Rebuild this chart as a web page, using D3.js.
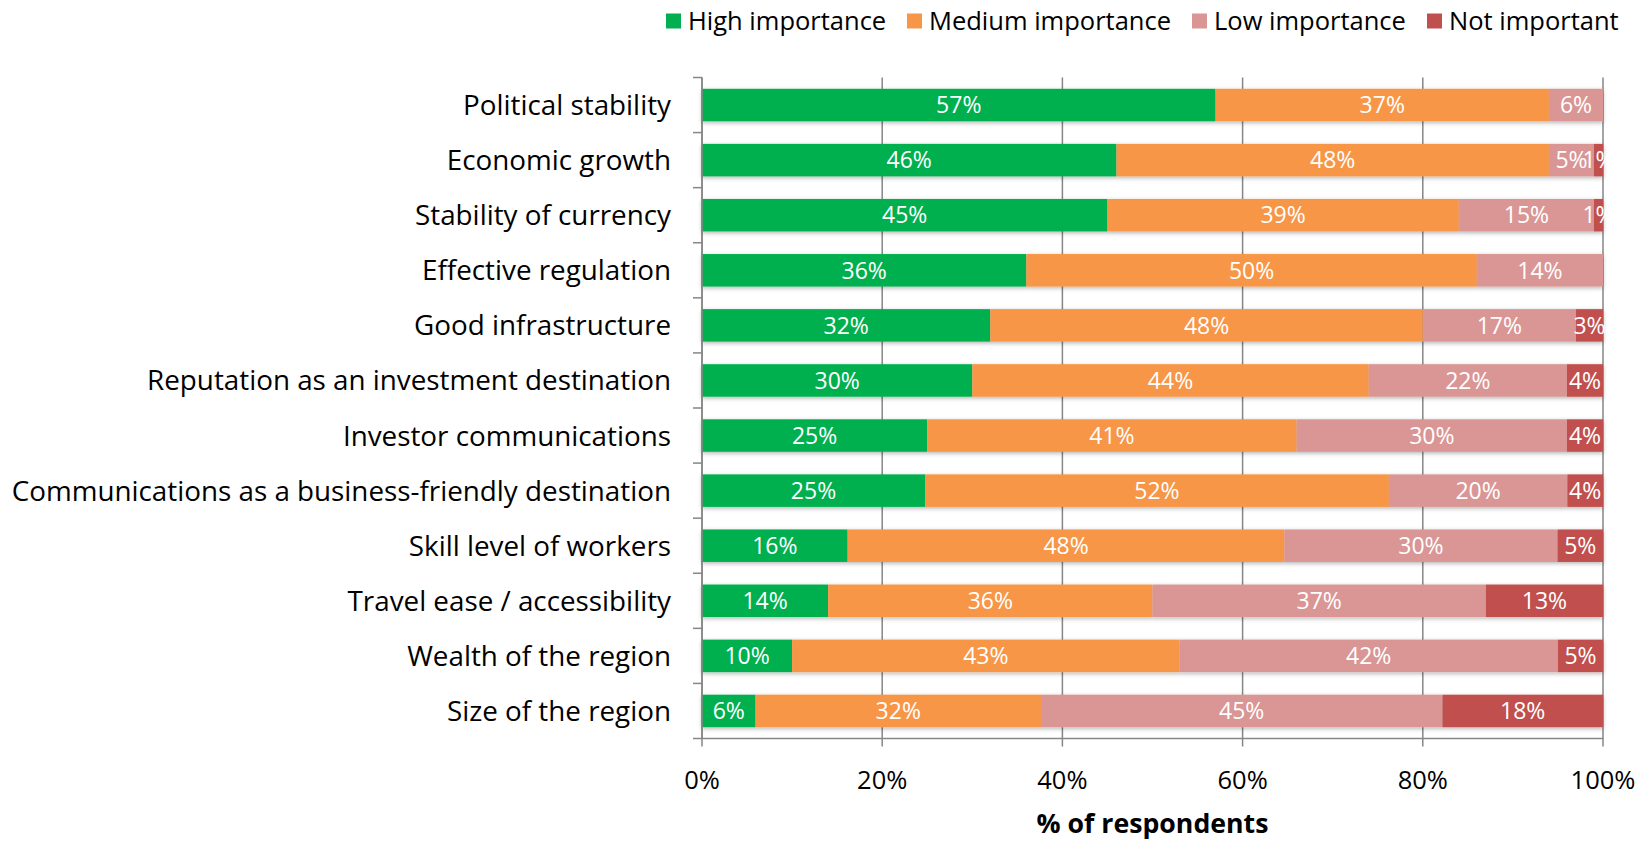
<!DOCTYPE html>
<html>
<head>
<meta charset="utf-8">
<script src="https://cdn.jsdelivr.net/npm/d3@7"></script>
<style>
  html, body { margin: 0; padding: 0; background: #fff; }
  svg { display: block; font-family: "Open Sans", Lato, sans-serif; }
</style>
</head>
<body>
<svg id="chart" width="1643" height="841"></svg>
<script>
// Location factors and how important respondents rated them (% of respondents)
const categories = [
  "Political stability",
  "Economic growth",
  "Stability of currency",
  "Effective regulation",
  "Good infrastructure",
  "Reputation as an investment destination",
  "Investor communications",
  "Communications as a business-friendly destination",
  "Skill level of workers",
  "Travel ease / accessibility",
  "Wealth of the region",
  "Size of the region"
];
const seriesNames = ["High importance", "Medium importance", "Low importance", "Not important"];
const highImportance   = [57, 46, 45, 36, 32, 30, 25, 25, 16, 14, 10, 6];
const mediumImportance = [37, 48, 39, 50, 48, 44, 41, 52, 48, 36, 43, 32];
const lowImportance    = [6, 5, 15, 14, 17, 22, 30, 20, 30, 37, 42, 45];
const notImportant     = [0, 1, 1, 0, 3, 4, 4, 4, 5, 13, 5, 18];
const xTicks = [0, 0.2, 0.4, 0.6, 0.8, 1.0];
const colors = ["#00B050", "#F79646", "#D99694", "#C0504D"];

const seriesValues = [highImportance, mediumImportance, lowImportance, notImportant];
const rows = categories.map((c, i) => {
  const r = { category: c };
  seriesNames.forEach((s, j) => { r[s] = seriesValues[j][i]; });
  return r;
});

const svg = d3.select("#chart");
const margin = { left: 702, right: 40, top: 77.5, bottom: 102.5 };
const W = 1643, H = 841;

const x = d3.scaleLinear().domain([0, 1]).range([margin.left, W - margin.right]);
const y = d3.scaleBand().domain(categories)
  .range([margin.top, H - margin.bottom])
  .paddingInner(0.41).paddingOuter(0.205);

// 100% stacked layout
const stacked = d3.stack().keys(seriesNames).offset(d3.stackOffsetExpand)(rows);

const defs = svg.append("defs");
const f = defs.append("filter").attr("id", "shadow")
  .attr("x", "-5%").attr("y", "-40%").attr("width", "110%").attr("height", "180%");
f.append("feDropShadow").attr("dx", 0).attr("dy", 1.5).attr("stdDeviation", 2)
  .attr("flood-color", "#000").attr("flood-opacity", 0.3);

const gridColor = "#868686";

// vertical gridlines with outward ticks
svg.append("g").selectAll("line").data(xTicks).join("line")
  .attr("x1", d => x(d)).attr("x2", d => x(d))
  .attr("y1", margin.top).attr("y2", H - margin.bottom + 8)
  .attr("stroke", gridColor).attr("stroke-width", 1.5);

// bottom axis line
svg.append("line")
  .attr("x1", x(0)).attr("x2", x(1))
  .attr("y1", H - margin.bottom).attr("y2", H - margin.bottom)
  .attr("stroke", gridColor).attr("stroke-width", 1.5);

// category axis ticks at band edges
const edges = d3.range(categories.length + 1).map(i => margin.top + i * y.step());
svg.append("g").selectAll("line").data(edges).join("line")
  .attr("x1", x(0) - 9).attr("x2", x(0))
  .attr("y1", d => d).attr("y2", d => d)
  .attr("stroke", gridColor).attr("stroke-width", 1.5);

// bars
const barG = svg.append("g").attr("filter", "url(#shadow)");
stacked.forEach((layer, j) => {
  barG.append("g").attr("fill", colors[j])
    .selectAll("rect").data(layer).join("rect")
    .attr("x", d => x(d[0]))
    .attr("width", d => Math.max(0, x(d[1]) - x(d[0])))
    .attr("y", d => y(d.data.category))
    .attr("height", y.bandwidth());
});

// value labels
const labG = svg.append("g");
stacked.forEach((layer, j) => {
  labG.append("g").selectAll("text")
    .data(layer.filter(d => d.data[seriesNames[j]] > 0)).join("text")
    .attr("x", d => (x(d[0]) + x(d[1])) / 2)
    .attr("y", d => y(d.data.category) + y.bandwidth() / 2)
    .attr("dy", "0.36em")
    .attr("text-anchor", "middle")
    .attr("fill", "#fff")
    .style("font-size", "23px")
    .text(d => d.data[seriesNames[j]] + "%");
});

// left axis line
svg.append("line")
  .attr("x1", x(0)).attr("x2", x(0))
  .attr("y1", margin.top).attr("y2", H - margin.bottom)
  .attr("stroke", gridColor).attr("stroke-width", 1.5);

// category labels
svg.append("g").selectAll("text").data(categories).join("text")
  .attr("x", x(0) - 31)
  .attr("y", d => y(d) + y.bandwidth() / 2)
  .attr("dy", "0.36em")
  .attr("text-anchor", "end")
  .attr("fill", "#000")
  .style("font-size", "27.8px")
  .text(d => d);

// x tick labels
svg.append("g").selectAll("text").data(xTicks).join("text")
  .attr("x", d => x(d))
  .attr("y", 780)
  .attr("dy", "0.36em")
  .attr("text-anchor", "middle")
  .attr("fill", "#000")
  .style("font-size", "25.5px")
  .text(d => d3.format(".0%")(d));

// axis title
svg.append("text")
  .attr("x", (x(0) + x(1)) / 2)
  .attr("y", 823)
  .attr("dy", "0.36em")
  .attr("text-anchor", "middle")
  .attr("font-weight", "bold")
  .attr("fill", "#000")
  .style("font-size", "26.7px")
  .text("% of respondents");

// legend
const legendX = [666, 907, 1192, 1427];
const legend = svg.append("g");
seriesNames.forEach((s, j) => {
  const g = legend.append("g").attr("transform", `translate(${legendX[j]},21)`);
  g.append("rect").attr("x", 0).attr("y", -7.5).attr("width", 15).attr("height", 15).attr("fill", colors[j]);
  g.append("text").attr("x", 22).attr("y", 0).attr("dy", "0.36em")
    .attr("fill", "#000").style("font-size", "25.5px").text(s);
});
</script>
</body>
</html>
